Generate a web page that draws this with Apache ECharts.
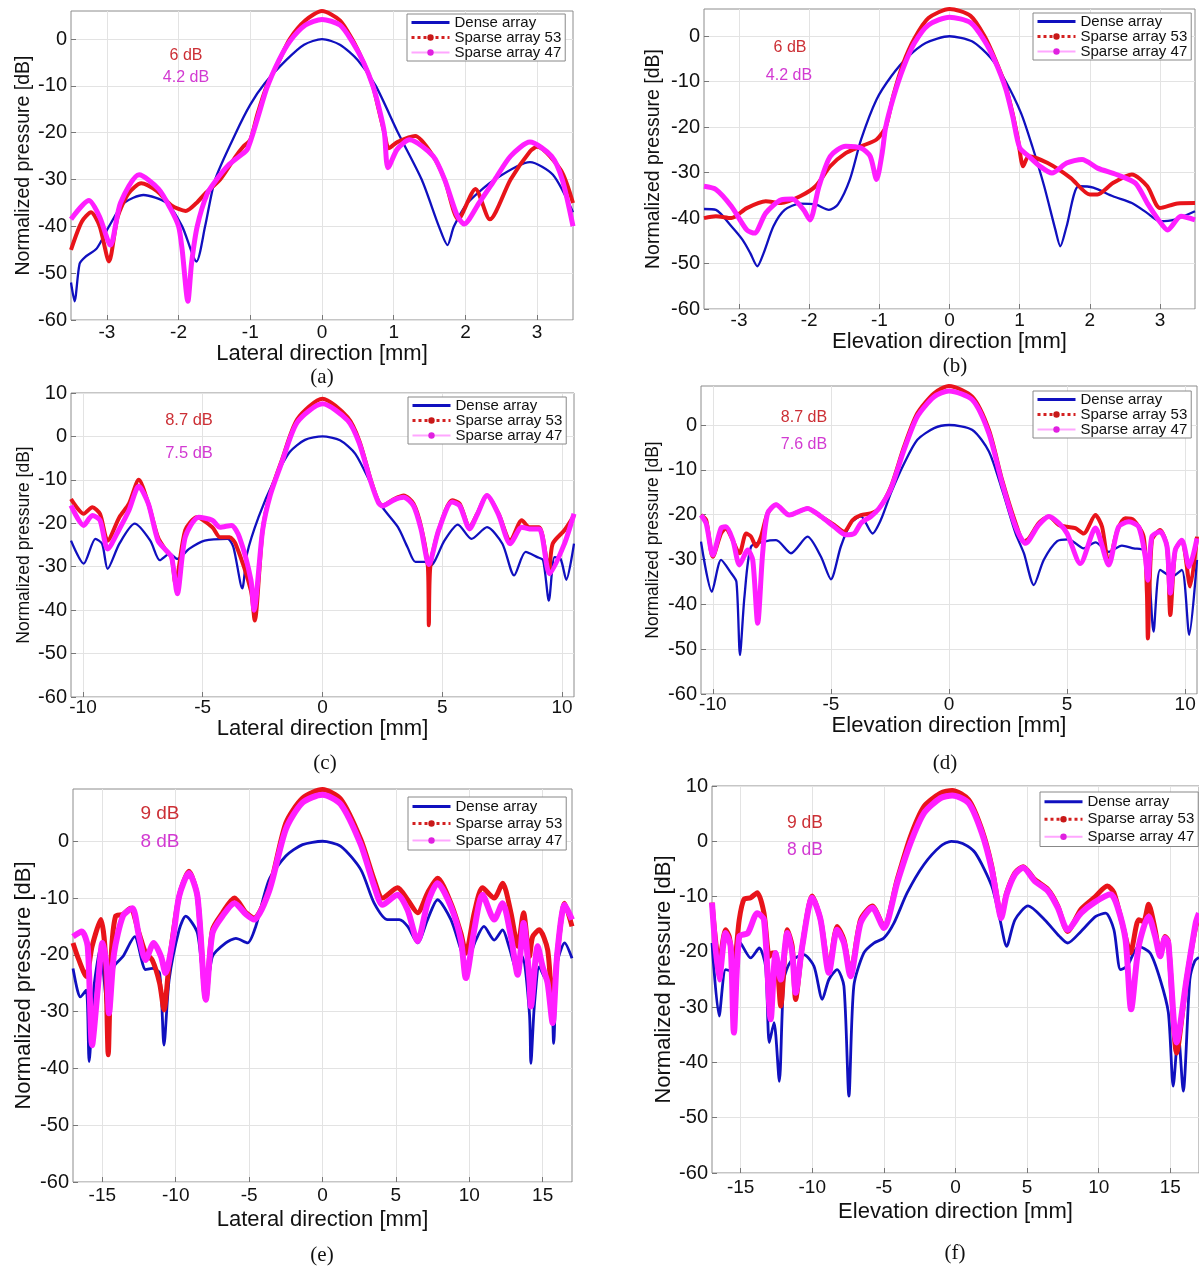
<!DOCTYPE html>
<html><head><meta charset="utf-8">
<script src="https://cdn.jsdelivr.net/npm/echarts@6/dist/echarts.min.js"></script>
<style>html,body{margin:0;padding:0;background:#fff}#c{width:1199px;height:1267px}</style>
</head><body><div id="c"></div>
<script>
// ---------- data (x in mm, y in dB) ----------
const seriesNames = ['Dense array', 'Sparse array 53', 'Sparse array 47'];
const xTicksA = [-3, -2, -1, 0, 1, 2, 3];
const xTicksC = [-10, -5, 0, 5, 10];
const xTicksE = [-15, -10, -5, 0, 5, 10, 15];
const yTicksTo0 = [-60, -50, -40, -30, -20, -10, 0];
const yTicksTo10 = [-60, -50, -40, -30, -20, -10, 0, 10];

const a_dense = [[-3.5,-52],[-3.45,-56],[-3.38,-48],[-3.3,-46.5],[-3.14,-44.7],[-2.97,-40],[-2.76,-35],[-2.49,-33.3],[-2.17,-35],[-1.95,-40],[-1.75,-47.5],[-1.63,-40],[-1.49,-30],[-1.2,-20],[-1.0,-14],[-0.8,-9.5],[-0.5,-4.5],[-0.25,-1.2],[0,0],[0.25,-1.2],[0.5,-4.5],[0.75,-10],[1.06,-20],[1.39,-30],[1.63,-40],[1.75,-44],[1.84,-40],[2.03,-35],[2.41,-30],[2.9,-26.3],[3.22,-29],[3.5,-37]];
const a_s53 = [[-3.5,-45],[-3.35,-39],[-3.22,-37],[-3.1,-40],[-2.97,-47.5],[-2.85,-38],[-2.7,-33],[-2.52,-30.8],[-2.3,-32.5],[-2.1,-35.5],[-1.9,-36.7],[-1.75,-35],[-1.63,-33],[-1.42,-30],[-1.2,-25],[-1.1,-23],[-1.0,-21.5],[-0.9,-16],[-0.77,-10],[-0.61,-5],[-0.45,0],[-0.23,4],[0,6],[0.25,4],[0.42,0],[0.58,-5],[0.71,-10],[0.79,-15],[0.87,-20],[0.93,-23.3],[1.05,-22],[1.3,-20.7],[1.55,-25],[1.71,-30],[1.9,-38.5],[2.14,-32],[2.34,-38.5],[2.63,-30],[2.9,-24],[3.0,-23],[3.33,-28],[3.5,-35]];
const a_s47 = [[-3.5,-38.5],[-3.25,-34.5],[-3.1,-38],[-2.95,-44],[-2.81,-35],[-2.55,-29],[-2.28,-32],[-2.12,-36],[-2.0,-40],[-1.95,-45],[-1.87,-56],[-1.82,-48],[-1.74,-40],[-1.6,-33],[-1.47,-30],[-1.31,-27],[-1.15,-25],[-1.04,-23.5],[-0.9,-17],[-0.77,-10.5],[-0.6,-4.5],[-0.45,-0.5],[-0.23,3],[0,4.2],[0.25,3],[0.42,-0.5],[0.58,-5],[0.71,-10],[0.8,-15],[0.87,-20],[0.92,-27.5],[1.05,-23.5],[1.22,-21.5],[1.55,-25],[1.71,-30],[1.88,-37.5],[1.98,-39.5],[2.19,-35],[2.41,-30],[2.63,-25],[2.9,-22],[3.2,-25],[3.35,-30],[3.5,-40]];

const b_dense = [[-3.5,-38],[-3.33,-38.2],[-3.11,-41.8],[-2.95,-44.8],[-2.84,-47.7],[-2.74,-50.6],[-2.65,-47.7],[-2.51,-41.8],[-2.35,-38.2],[-2.13,-36.8],[-1.91,-37],[-1.72,-38.2],[-1.59,-37],[-1.42,-31.5],[-1.26,-22.7],[-1.04,-13.9],[-0.83,-8.8],[-0.61,-4.8],[-0.34,-1.5],[0,0],[0.32,-1.1],[0.59,-4.8],[0.8,-9.9],[1.02,-16.9],[1.18,-24.2],[1.35,-33],[1.51,-42.6],[1.58,-46.2],[1.67,-41.8],[1.84,-33],[2.05,-33.3],[2.33,-35.2],[2.6,-36.7],[2.82,-38.9],[3.0,-40.7],[3.2,-40.4],[3.5,-38.5]];
const b_s53 = [[-3.5,-40],[-3.33,-39.6],[-3.11,-40],[-2.89,-37.8],[-2.62,-36.3],[-2.4,-36.7],[-2.13,-35.2],[-1.91,-33],[-1.7,-28.6],[-1.48,-25.7],[-1.26,-24.2],[-1.04,-22.7],[-0.91,-20],[-0.8,-13],[-0.66,-6],[-0.5,-0.5],[-0.3,4],[0,6],[0.3,4.5],[0.5,0],[0.65,-5],[0.8,-11],[0.9,-17],[0.98,-23],[1.05,-28.6],[1.13,-26.4],[1.4,-27.9],[1.73,-31.2],[2.0,-34.8],[2.11,-34.8],[2.33,-32.3],[2.6,-30.4],[2.82,-33],[3.0,-37.8],[3.25,-36.8],[3.5,-36.7]];
const b_s47 = [[-3.5,-33],[-3.33,-33.7],[-3.11,-37.4],[-2.89,-42.6],[-2.78,-43.3],[-2.62,-38.9],[-2.4,-36],[-2.24,-35.8],[-2.08,-38.2],[-1.99,-40.4],[-1.86,-33],[-1.7,-26.4],[-1.48,-24.2],[-1.26,-24.6],[-1.13,-26.4],[-1.04,-31.5],[-0.96,-25.7],[-0.91,-20],[-0.8,-13.5],[-0.66,-7],[-0.5,-1.5],[-0.3,2.5],[0,4.2],[0.3,3],[0.5,-1],[0.65,-5.5],[0.8,-11.5],[0.9,-17.6],[1.0,-24.5],[1.13,-26.4],[1.29,-28.6],[1.46,-30.1],[1.67,-27.9],[1.89,-27.1],[2.11,-29],[2.38,-30.4],[2.65,-32.3],[2.82,-36.7],[2.98,-40.4],[3.11,-42.6],[3.3,-39.6],[3.5,-40.4]];

const c_dense = [[-10.5,-24],[-9.97,-29.3],[-9.48,-23.6],[-9.2,-24.7],[-8.97,-30.5],[-8.48,-24.7],[-7.84,-20.1],[-7.19,-24],[-6.79,-28.5],[-6.38,-27],[-6.06,-28.2],[-5.57,-25.9],[-4.92,-24],[-3.96,-23.6],[-3.72,-25.5],[-3.35,-35],[-3.15,-27],[-2.67,-18.6],[-2.02,-10.1],[-1.37,-3.6],[-0.73,-0.8],[0,0],[0.73,-0.9],[1.37,-4],[2.02,-10.9],[2.5,-16.3],[3.15,-20.9],[3.55,-25.5],[3.88,-28.9],[4.28,-28.9],[4.52,-29.7],[5.09,-24],[5.65,-20.3],[6.22,-23.6],[6.87,-20.9],[7.51,-24.7],[8.0,-32],[8.48,-26.6],[8.97,-27.8],[9.21,-28.5],[9.45,-37.8],[9.69,-27.8],[9.94,-28.2],[10.18,-33],[10.5,-24.7]];
const c_s53 = [[-10.5,-14.4],[-9.97,-17.8],[-9.61,-16.3],[-9.29,-17.8],[-8.97,-24],[-8.48,-18.6],[-8.08,-15.5],[-7.67,-10],[-7.27,-15.5],[-6.87,-23.2],[-6.54,-26.2],[-6.3,-27.8],[-6.14,-33.9],[-5.73,-21.6],[-5.25,-18.6],[-4.6,-20.9],[-4.28,-23.2],[-3.88,-23.2],[-3.63,-24.7],[-2.99,-35.5],[-2.83,-42.4],[-2.5,-21.6],[-2.18,-13.2],[-1.7,-5.5],[-1.05,4],[0,8.7],[1.05,4.4],[1.53,-0.9],[2.02,-10.1],[2.34,-15.1],[2.5,-15.9],[2.99,-14.4],[3.39,-13.6],[3.8,-15.5],[4.12,-20.9],[4.4,-30],[4.44,-43.5],[4.5,-30],[4.85,-21.6],[5.41,-14.7],[5.73,-15.5],[6.14,-20.9],[6.46,-17.8],[6.87,-13.6],[7.35,-17.8],[7.84,-24],[8.32,-19.3],[8.64,-20.9],[9.05,-20.9],[9.45,-30.8],[9.61,-24.7],[10.1,-21.6],[10.5,-18.2]];
const c_s47 = [[-10.5,-15.9],[-9.97,-20.5],[-9.61,-18.2],[-9.29,-19.3],[-8.97,-25.9],[-8.48,-21.3],[-8.08,-17],[-7.67,-11.5],[-7.27,-15.5],[-6.87,-24],[-6.54,-26.2],[-6.3,-27.8],[-6.06,-36.2],[-5.73,-23.2],[-5.17,-18.6],[-4.6,-19.3],[-4.28,-20.9],[-3.8,-20.5],[-3.47,-23.2],[-2.99,-33],[-2.86,-40],[-2.5,-21.6],[-2.18,-13.5],[-1.7,-6],[-1.05,3.3],[0,7.5],[1.05,3.7],[1.53,-1.5],[2.02,-10.5],[2.34,-15.3],[2.5,-16],[2.99,-14.6],[3.39,-14],[3.8,-16],[4.12,-21.5],[4.44,-29.5],[4.85,-21.6],[5.41,-15.1],[5.73,-16],[6.14,-21.3],[6.46,-18],[6.87,-13.6],[7.35,-18],[7.84,-24.7],[8.32,-20.9],[8.64,-21.3],[9.05,-21.3],[9.48,-31.6],[10.1,-24.7],[10.5,-17.8]];

const d_dense = [[-10.5,-26],[-10.04,-37.2],[-9.65,-30.1],[-9.23,-33],[-9.0,-35],[-8.85,-51.3],[-8.66,-38.3],[-8.38,-27.1],[-7.82,-26],[-7.32,-25.7],[-6.69,-28.6],[-5.99,-24.9],[-5.42,-29.4],[-5.0,-34.4],[-4.58,-27.1],[-4.15,-21.9],[-3.73,-20.4],[-3.24,-24.2],[-2.89,-21.2],[-2.46,-15.2],[-1.9,-8.6],[-1.34,-3.3],[-0.63,-0.7],[0,0],[0.99,-1.1],[1.69,-5.9],[2.25,-14.5],[2.82,-24.2],[3.17,-28.6],[3.59,-35.7],[4.01,-30.1],[4.58,-25.9],[5.07,-25.5],[5.7,-27.5],[6.2,-26.2],[6.76,-28.3],[7.32,-26.9],[7.82,-27.5],[8.24,-27.9],[8.45,-31.6],[8.66,-46.1],[8.94,-32.3],[9.44,-33.8],[9.86,-32.3],[10.17,-46.8],[10.5,-30.1]];
const d_s53 = [[-10.5,-20.1],[-10.28,-21.2],[-10.0,-29.4],[-9.65,-24.2],[-9.44,-23],[-9.23,-24.9],[-8.87,-28.6],[-8.59,-24.2],[-8.38,-24.9],[-8.17,-27.1],[-7.96,-24.9],[-7.68,-19.7],[-7.32,-17.8],[-6.76,-20.1],[-5.99,-18.6],[-5.42,-20.4],[-4.86,-22.3],[-4.44,-23.8],[-4.08,-21.2],[-3.73,-20.1],[-3.31,-19.7],[-2.96,-18.6],[-2.46,-13.8],[-1.9,-4.8],[-1.34,2.6],[-0.63,7.1],[0,8.7],[0.99,6.3],[1.69,-1.1],[2.25,-12.3],[2.82,-21.9],[3.17,-26],[3.38,-25.3],[3.8,-21.9],[4.23,-20.4],[4.65,-22.3],[5.0,-22.7],[5.35,-23],[5.7,-24.2],[6.2,-20.1],[6.48,-22.7],[6.76,-30.9],[7.11,-23.8],[7.46,-20.8],[7.82,-21.2],[8.24,-24.9],[8.38,-37.5],[8.42,-47.6],[8.59,-25.7],[8.94,-23.4],[9.23,-27.1],[9.37,-42.4],[9.58,-27.9],[9.86,-25.7],[10.21,-36],[10.5,-24.9]];
const d_s47 = [[-10.5,-20.1],[-10.28,-22],[-10.0,-29],[-9.65,-23],[-9.44,-22.7],[-9.15,-25.7],[-8.87,-31.2],[-8.52,-27.9],[-8.31,-30.1],[-8.1,-44.2],[-7.89,-28.6],[-7.68,-19.7],[-7.32,-17.8],[-6.76,-20.1],[-5.99,-18.6],[-5.42,-20.4],[-4.86,-22.7],[-4.37,-24.5],[-4.01,-24.2],[-3.73,-21.9],[-3.31,-20.4],[-2.96,-18.6],[-2.46,-14.2],[-1.9,-5.5],[-1.34,1.9],[-0.63,6.3],[0,7.6],[0.99,5.6],[1.69,-1.9],[2.25,-13],[2.82,-22.7],[3.24,-26.4],[3.8,-22.3],[4.23,-20.4],[4.65,-21.9],[5.0,-24.2],[5.56,-30.9],[6.2,-23],[6.76,-31.2],[7.18,-22.7],[7.61,-21.6],[8.03,-22.7],[8.31,-29.4],[8.42,-34.6],[8.59,-24.9],[8.94,-23.8],[9.23,-27.1],[9.37,-37.5],[9.58,-27.9],[9.86,-25.7],[10.17,-31.6],[10.5,-25.3]];

const e_dense = [[-17,-22.4],[-16.7,-26.2],[-16.5,-27.4],[-16.1,-26.2],[-15.9,-38.8],[-15.57,-25.6],[-15.1,-18.5],[-14.9,-23.8],[-14.6,-30.9],[-14.2,-22.1],[-13.6,-20.3],[-12.8,-16.8],[-12.05,-22.6],[-11.6,-22.4],[-11.1,-23.2],[-10.8,-35.9],[-10.45,-24.4],[-9.77,-15.6],[-9.32,-13.2],[-8.52,-16.2],[-7.95,-27.9],[-7.5,-20.3],[-6.59,-17.9],[-5.9,-17.1],[-5.1,-17.9],[-4.55,-15],[-3.64,-6.8],[-2.5,-2.6],[-1.36,-0.6],[0,0],[1.25,-0.9],[2.61,-5],[3.52,-10.9],[4.43,-13.8],[5.23,-13.8],[5.8,-15],[6.48,-17.9],[7.16,-13.8],[7.84,-10.3],[8.75,-13.8],[9.43,-19.1],[9.77,-21.5],[10.45,-17.4],[11.0,-15],[11.7,-17.4],[12.27,-15.6],[12.7,-18.5],[13.3,-23.2],[13.64,-20.3],[14.1,-30.3],[14.2,-39.1],[14.43,-29.1],[14.77,-22.1],[15.1,-23.8],[15.57,-25.6],[15.75,-35.6],[16.0,-21.5],[16.5,-17.9],[17,-20.6]];
const e_s53 = [[-17,-17.9],[-16.6,-20.9],[-16.1,-23.8],[-15.7,-18.5],[-15.1,-13.8],[-14.8,-19.7],[-14.6,-37.6],[-14.4,-20.3],[-14.1,-13.2],[-13.6,-12.9],[-13.1,-11.8],[-12.5,-16.2],[-12.05,-19.7],[-11.6,-20.9],[-11.1,-25],[-10.8,-29.7],[-10.45,-21.5],[-9.77,-9.7],[-9.1,-5.3],[-8.52,-9.7],[-7.95,-27.9],[-7.5,-15.6],[-6.82,-12.6],[-6.0,-10],[-5.2,-12.6],[-4.66,-13.5],[-3.64,-8.5],[-2.5,3.2],[-1.36,7.6],[0,9.1],[1.25,7.4],[2.61,0.3],[3.52,-6.8],[4.09,-10],[5.11,-8.2],[5.8,-10.3],[6.48,-12.6],[7.16,-9.1],[7.84,-6.5],[8.75,-10.9],[9.43,-16.2],[9.77,-19.7],[10.34,-12.6],[10.9,-8.2],[11.7,-10],[12.27,-7.4],[12.84,-12.6],[13.3,-18.5],[13.7,-12.6],[14.1,-20.3],[14.32,-16.8],[14.77,-15.6],[15.34,-19.1],[15.68,-29.1],[16.0,-19.7],[16.5,-10.9],[17,-15]];
const e_s47 = [[-17,-16.8],[-16.4,-15.9],[-16.0,-18.5],[-15.7,-35.9],[-15.3,-25.6],[-15.0,-17.9],[-14.7,-22.1],[-14.55,-30.3],[-14.2,-19.7],[-13.6,-13.2],[-12.95,-11.8],[-12.5,-16.8],[-12.05,-20.9],[-11.5,-17.9],[-11.0,-20.3],[-10.7,-23.2],[-10.2,-17.4],[-9.77,-9.7],[-9.1,-5.6],[-8.52,-9.7],[-7.95,-27.9],[-7.5,-16.2],[-6.82,-13.2],[-6.0,-10.9],[-5.2,-12.9],[-4.66,-13.8],[-3.64,-8.8],[-2.5,2.1],[-1.36,6.8],[0,8.2],[1.25,6.5],[2.61,-0.6],[3.52,-7.9],[4.09,-11.2],[5.11,-9.4],[5.8,-12.1],[6.48,-17.6],[7.16,-10.9],[7.84,-7.4],[8.75,-11.5],[9.43,-17.4],[9.77,-24.1],[10.34,-15.6],[10.9,-9.4],[11.7,-13.8],[12.27,-10.9],[12.84,-16.8],[13.3,-23.5],[13.7,-14.4],[14.1,-24.4],[14.2,-29.1],[14.66,-18.5],[15.0,-22.1],[15.34,-25],[15.68,-32],[16.0,-19.7],[16.5,-11.2],[17,-13.8]];

const f_dense = [[-17,-18.4],[-16.5,-31.6],[-16.05,-23.2],[-15.6,-23.5],[-15.1,-18.1],[-14.3,-21.1],[-13.7,-19.3],[-13.26,-22.6],[-13.0,-36.4],[-12.67,-32.8],[-12.3,-43.4],[-11.98,-25],[-11.5,-21.7],[-10.6,-20.5],[-9.88,-22.6],[-9.3,-28.6],[-8.84,-25],[-8.26,-23.2],[-7.79,-26.2],[-7.44,-46.1],[-7.1,-26.2],[-6.4,-20.2],[-5.7,-18.4],[-5.0,-17.5],[-4.3,-14.8],[-3.37,-9.3],[-2.2,-4.2],[-1.05,-0.9],[-0.3,0],[0.5,-0.4],[1.38,-2.1],[2.53,-8.1],[3.11,-14.2],[3.57,-19],[4.15,-14.2],[5.07,-11.7],[6.22,-14.2],[7.26,-17.2],[7.83,-18.4],[8.76,-16.3],[9.79,-13.6],[10.48,-13],[11.06,-16],[11.52,-23.2],[11.98,-22.6],[12.79,-19],[13.59,-20.2],[14.29,-25],[14.86,-31],[15.2,-44.3],[15.55,-34.6],[15.9,-45.2],[16.36,-25],[16.7,-21.7],[17,-21]];
const f_s53 = [[-17,-11.1],[-16.5,-22],[-16.05,-16],[-15.8,-17.2],[-15.47,-22.6],[-15.1,-14.2],[-14.77,-10.5],[-14.3,-10.2],[-13.84,-9.3],[-13.37,-13],[-13.0,-20.8],[-12.79,-20.2],[-12.56,-20.2],[-12.2,-29.8],[-11.74,-16],[-11.4,-19],[-11.16,-28.6],[-10.7,-19],[-10.0,-9.9],[-9.42,-14.2],[-8.84,-22.9],[-8.26,-15.4],[-7.79,-17.8],[-7.33,-23.8],[-6.63,-14.2],[-5.81,-11.7],[-5.0,-15.4],[-4.07,-6.9],[-3.14,0.9],[-2.2,6.3],[-1.05,8.7],[-0.23,9.2],[0.92,7.5],[1.84,2.1],[2.53,-4.5],[3.0,-11.7],[3.18,-13.6],[3.57,-9.3],[4.15,-5.7],[4.72,-4.6],[5.53,-6.9],[6.45,-8.7],[7.14,-11.7],[7.83,-16.3],[8.76,-12.3],[9.68,-10.2],[10.6,-8.1],[11.06,-9.3],[11.75,-16],[12.21,-20.2],[12.79,-14.2],[13.13,-14.5],[13.48,-11.4],[13.94,-16],[14.29,-20.8],[14.63,-17.2],[14.86,-18.1],[15.44,-38.3],[16.13,-25],[16.77,-15.4],[17,-14]];
const f_s47 = [[-17,-11.1],[-16.5,-25],[-16.05,-16.6],[-15.7,-19],[-15.47,-34.6],[-15.1,-17.2],[-14.5,-16.6],[-13.84,-13],[-13.37,-14.2],[-12.9,-32.2],[-12.56,-20.2],[-12.2,-25],[-11.74,-16.6],[-11.4,-20.2],[-11.16,-27.4],[-10.7,-19],[-10.0,-10.2],[-9.42,-14.2],[-8.84,-23.8],[-8.26,-16],[-7.79,-18.4],[-7.33,-24.4],[-6.63,-14.8],[-5.81,-12],[-5.0,-15.7],[-4.07,-7.5],[-3.14,-0.3],[-2.2,5.1],[-1.05,7.8],[-0.23,8.3],[0.92,6.9],[1.84,1.5],[2.53,-5.1],[3.0,-12],[3.18,-13.9],[3.57,-9.6],[4.15,-6],[4.72,-4.8],[5.53,-7.2],[6.45,-9],[7.14,-12],[7.83,-16],[8.76,-13],[9.68,-11.1],[10.83,-9.6],[11.29,-11.7],[11.87,-17.8],[12.26,-30.4],[12.79,-19],[13.48,-13.6],[13.94,-17.2],[14.29,-20.8],[14.63,-17.5],[14.86,-18.4],[15.44,-36.4],[16.13,-25],[16.77,-14.8],[17,-13]];

const annA = ['6 dB', '4.2 dB'];
const annB = ['6 dB', '4.2 dB'];
const annC = ['8.7 dB', '7.5 dB'];
const annD = ['8.7 dB', '7.6 dB'];
const annE = ['9 dB', '8 dB'];
const annF = ['9 dB', '8 dB'];
const panelLabels = ['(a)', '(b)', '(c)', '(d)', '(e)', '(f)'];
const xTitleLat = 'Lateral direction [mm]';
const xTitleEle = 'Elevation direction [mm]';
const yTitle = 'Normalized pressure [dB]';

// ---------- layout ----------
const panels = [
  {d:[a_dense,a_s53,a_s47], xr:[-3.5,3.5], xt:xTicksA, yr:[-60,6], yt:yTicksTo0, xn:xTitleLat,
   g:{left:71,top:11,width:502,height:309}, lg:{left:407,top:14}, lgLH:15, xfs:19, yfs:20, xnfs:22, ynfs:19.5, xg:20, yg:37, xm:3,
   ann:annA, annPos:[[186,56],[186,78]], afs:16, lab:[322,377], w:[2.3,4,5]},
  {d:[b_dense,b_s53,b_s47], xr:[-3.5,3.5], xt:xTicksA, yr:[-60,6], yt:yTicksTo0, xn:xTitleEle,
   g:{left:704,top:9,width:491,height:300}, lg:{left:1033,top:13}, lgLH:15, xfs:19, yfs:20, xnfs:22, ynfs:19.5, xg:18, yg:40, xm:2,
   ann:annB, annPos:[[790,48],[789,76]], afs:16, lab:[955,366], w:[2.3,4,5]},
  {d:[c_dense,c_s53,c_s47], xr:[-10.5,10.5], xt:xTicksC, yr:[-60,10], yt:yTicksTo10, xn:xTitleLat,
   g:{left:71,top:393,width:503,height:304}, lg:{left:408,top:397}, lgLH:14.5, xfs:19, yfs:20, xnfs:22, ynfs:17.5, xg:18, yg:38, xm:1,
   ann:annC, annPos:[[189,420],[189,453]], afs:16.5, lab:[325,763], w:[2.3,4,5]},
  {d:[d_dense,d_s53,d_s47], xr:[-10.5,10.5], xt:xTicksC, yr:[-60,8.7], yt:yTicksTo0, xn:xTitleEle,
   g:{left:701,top:386,width:496,height:308}, lg:{left:1033,top:391}, lgLH:14.5, xfs:19, yfs:20, xnfs:22, ynfs:17.5, xg:18, yg:39, xm:1,
   ann:annD, annPos:[[804,418],[804,445]], afs:16, lab:[945,763], w:[2.3,4,5]},
  {d:[e_dense,e_s53,e_s47], xr:[-17,17], xt:xTicksE, yr:[-60,9.2], yt:yTicksTo0, xn:xTitleLat,
   g:{left:73,top:789,width:499,height:393}, lg:{left:408,top:797}, lgLH:17, xfs:19, yfs:20, xnfs:22, ynfs:22, xg:27, yg:38, xm:4,
   ann:annE, annPos:[[160,814],[160,842]], afs:19, lab:[322,1255], w:[2.8,5,6]},
  {d:[f_dense,f_s53,f_s47], xr:[-17,17], xt:xTicksE, yr:[-60,10], yt:yTicksTo10, xn:xTitleEle,
   g:{left:712,top:786,width:490,height:387}, lg:{left:1040,top:792}, lgLH:17.5, xfs:19, yfs:20, xnfs:22, ynfs:22, xg:28, yg:37, xm:5,
   ann:annF, annPos:[[805,823],[805,850]], afs:17.5, lab:[955,1253], w:[2.8,5,6]}
];

const FONT = 'Liberation Sans, Arial, sans-serif';
const colors = ['#1010bf', '#e8141a', '#ff1eff'];
const symSizes = [0, 5, 7];

const option = {
  animation: false,
  backgroundColor: '#fff',
  grid: [], xAxis: [], yAxis: [], series: [], legend: [], graphic: []
};

panels.forEach((p, i) => {
  option.grid.push(Object.assign({show: true, borderColor: '#8c8c8c', borderWidth: 1, backgroundColor: '#fff', containLabel: false}, p.g));
  option.xAxis.push({
    type: 'value', gridIndex: i, min: p.xr[0], max: p.xr[1],
    name: p.xn, nameLocation: 'middle', nameGap: p.xg,
    nameTextStyle: {fontFamily: FONT, fontSize: p.xnfs, color: '#111'},
    axisLine: {show: false, onZero: false},
    axisTick: {show: true, inside: true, length: 5, customValues: p.xt, lineStyle: {color: '#777'}},
    axisLabel: {customValues: p.xt, fontFamily: FONT, fontSize: p.xfs, color: '#111', margin: p.xm},
    splitLine: {show: true, lineStyle: {color: '#e3e3e3', width: 1}}
  });
  option.yAxis.push({
    type: 'value', gridIndex: i, min: p.yr[0], max: p.yr[1],
    name: yTitle, nameLocation: 'middle', nameGap: p.yg, nameRotate: 90,
    nameTextStyle: {fontFamily: FONT, fontSize: p.ynfs, color: '#111'},
    axisLine: {show: false, onZero: false},
    axisTick: {show: true, inside: true, length: 5, customValues: p.yt, lineStyle: {color: '#777'}},
    axisLabel: {customValues: p.yt, fontFamily: FONT, fontSize: p.yfs, color: '#111', margin: 4},
    splitLine: {show: true, lineStyle: {color: '#e3e3e3', width: 1}}
  });
  p.d.forEach((arr, k) => {
    option.series.push({
      type: 'line', name: seriesNames[k], xAxisIndex: i, yAxisIndex: i, data: arr,
      smooth: 0.25, showSymbol: false,
      symbol: k === 0 ? 'none' : 'circle', symbolSize: symSizes[k],
      lineStyle: {color: colors[k], width: p.w[k]},
      itemStyle: {color: colors[k]},
      z: 2 + k
    });
  });
  option.legend.push({
    data: [
      {name: seriesNames[0], itemStyle: {opacity: 0}, lineStyle: {width: 3, color: '#1010bf'}},
      {name: seriesNames[1], lineStyle: {type: 'dotted', width: 3, color: '#d42020'}, itemStyle: {color: '#c81818'}},
      {name: seriesNames[2], lineStyle: {width: 2, color: '#ffa6ff'}, itemStyle: {color: '#e020e0'}}
    ],
    left: p.lg.left, top: p.lg.top, orient: 'vertical',
    itemWidth: 38, itemHeight: 8, itemGap: 0,
    textStyle: {fontFamily: FONT, fontSize: 15, lineHeight: p.lgLH, color: '#111'},
    borderColor: '#888', borderWidth: 1, backgroundColor: '#fff',
    padding: [1, 4, 1, 3], selectedMode: false
  });
  const annColors = ['#cc2f35', '#d23ad2'];
  p.ann.forEach((t, k) => {
    option.graphic.push({type: 'text', x: p.annPos[k][0], y: p.annPos[k][1], z: 100,
      style: {text: t, fontFamily: FONT, fontSize: p.afs, fill: annColors[k], textAlign: 'center', textVerticalAlign: 'middle', align: 'center', verticalAlign: 'middle'}});
  });
  option.graphic.push({type: 'text', x: p.lab[0], y: p.lab[1], z: 100,
    style: {text: panelLabels[i], fontFamily: 'Liberation Serif, Times New Roman, serif', fontSize: 21, fill: '#111', textAlign: 'center', textVerticalAlign: 'middle', align: 'center', verticalAlign: 'middle'}});
});

const chart = echarts.init(document.getElementById('c'), null, {renderer: 'canvas'});
chart.setOption(option);
</script>
</body></html>
